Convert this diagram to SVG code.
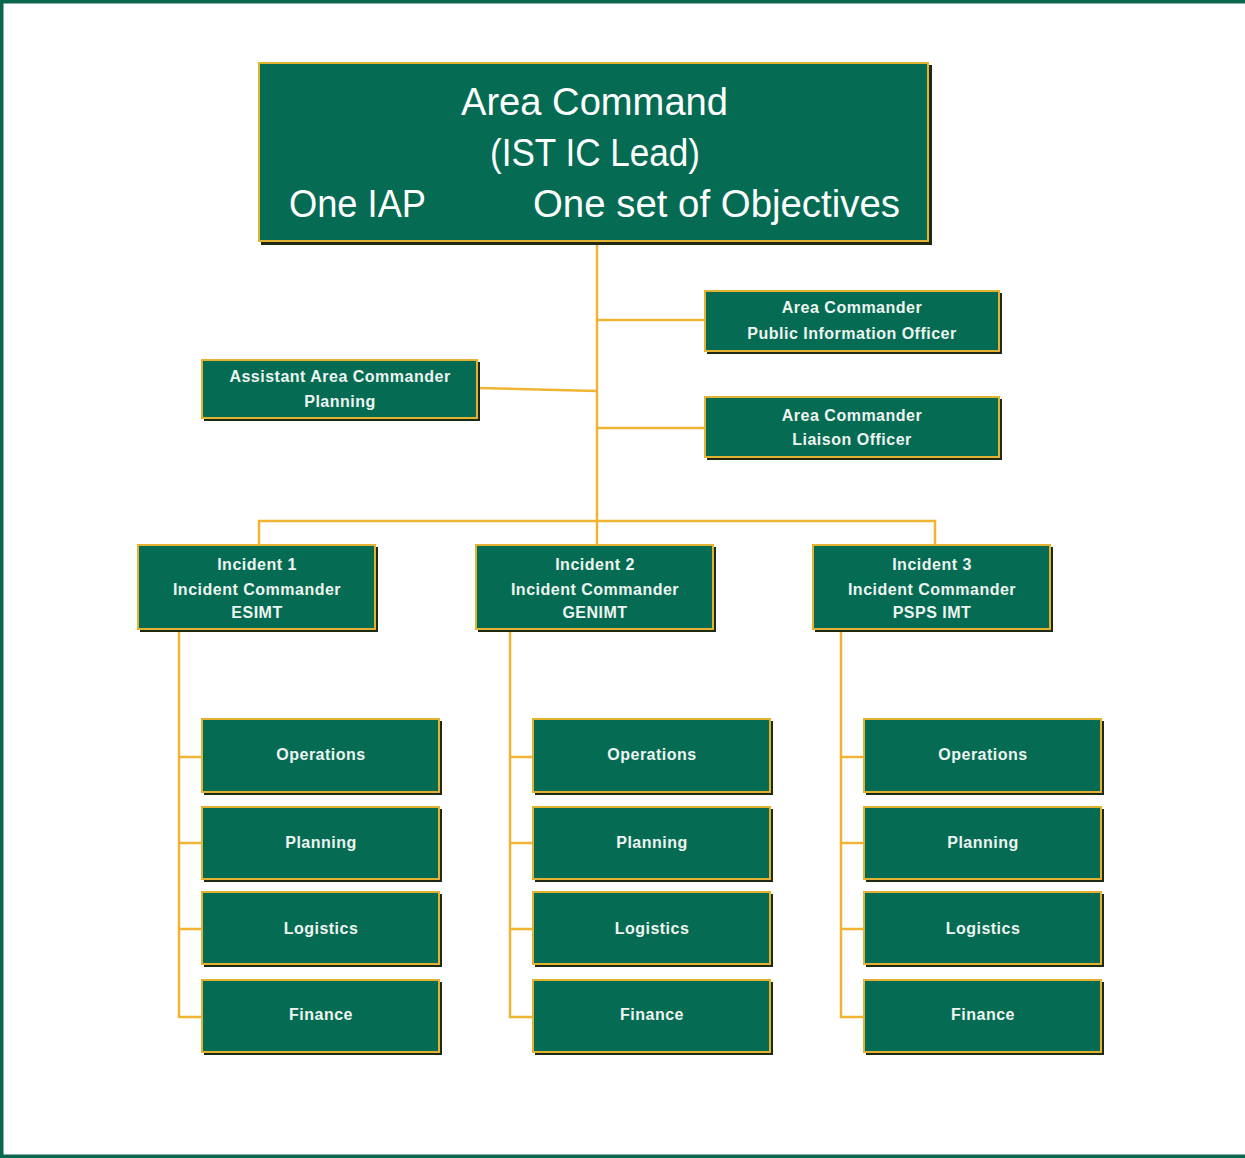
<svg xmlns="http://www.w3.org/2000/svg" width="1245" height="1158" viewBox="0 0 1245 1158">
<style>
.box{fill:#056c53;stroke:#e3b233;stroke-width:2}
.sh{fill:#1f2a12}
.big{font-family:"Liberation Sans",Arial,sans-serif;font-size:38px;fill:#ffffff}
.sm{font-family:"Liberation Sans",Arial,sans-serif;font-size:16px;font-weight:bold;fill:#eef4f0;letter-spacing:0.5px;text-anchor:middle}
.md{font-family:"Liberation Sans",Arial,sans-serif;font-size:16px;font-weight:bold;fill:#eef4f0;letter-spacing:0.5px;text-anchor:middle}
.ln{fill:none;stroke:#f0b432;stroke-width:2.5}
</style>
<rect x="0" y="0" width="1245" height="1158" fill="#ffffff"/>
<path d="M0 0H1245V3.5H3.5V1154.5H1245V1158H0Z" fill="#0b6650"/>
<g id="connectors">
<path class="ln" d="M597 243V521"/>
<path class="ln" d="M597 320H705"/>
<path class="ln" d="M597 428H705"/>
<path class="ln" d="M478 388L597 391"/>
<path class="ln" d="M259 545V521H935V545"/>
<path class="ln" d="M597 521V545"/>
<path class="ln" d="M179 630V1017H202M179 757H202M179 843H202M179 929H202"/>
<path class="ln" d="M510 630V1017H533M510 757H533M510 843H533M510 929H533"/>
<path class="ln" d="M841 630V1017H864M841 757H864M841 843H864M841 929H864"/>
</g>
<g id="area-command">
<rect class="sh" x="261" y="65" width="671" height="180"/>
<rect class="box" x="259" y="63" width="669" height="178"/>
<text class="big" x="461" y="115" textLength="267" lengthAdjust="spacingAndGlyphs">Area Command</text>
<text class="big" x="490" y="166" textLength="210" lengthAdjust="spacingAndGlyphs">(IST IC Lead)</text>
<text class="big" x="289" y="217" textLength="137" lengthAdjust="spacingAndGlyphs">One IAP</text>
<text class="big" x="533" y="217" textLength="367" lengthAdjust="spacingAndGlyphs">One set of Objectives</text>
</g>
<g id="pio">
<rect class="sh" x="707" y="293" width="295" height="61"/>
<rect class="box" x="705" y="291" width="294" height="60"/>
<text class="sm" x="852" y="313">Area Commander</text>
<text class="sm" x="852" y="339">Public Information Officer</text>
</g>
<g id="assistant">
<rect class="sh" x="204" y="362" width="276" height="59"/>
<rect class="box" x="202" y="360" width="275" height="58"/>
<text class="sm" x="340" y="382">Assistant Area Commander</text>
<text class="sm" x="340" y="407">Planning</text>
</g>
<g id="liaison">
<rect class="sh" x="707" y="399" width="295" height="61"/>
<rect class="box" x="705" y="397" width="294" height="60"/>
<text class="sm" x="852" y="421">Area Commander</text>
<text class="sm" x="852" y="445">Liaison Officer</text>
</g>
<g id="incident1">
<rect class="sh" x="140" y="547" width="238" height="85"/>
<rect class="box" x="138" y="545" width="237" height="84"/>
<text class="sm" x="257" y="570">Incident 1</text>
<text class="sm" x="257" y="595">Incident Commander</text>
<text class="sm" x="257" y="618">ESIMT</text>
</g>
<g id="incident2">
<rect class="sh" x="478" y="547" width="238" height="85"/>
<rect class="box" x="476" y="545" width="237" height="84"/>
<text class="sm" x="595" y="570">Incident 2</text>
<text class="sm" x="595" y="595">Incident Commander</text>
<text class="sm" x="595" y="618">GENIMT</text>
</g>
<g id="incident3">
<rect class="sh" x="815" y="547" width="238" height="85"/>
<rect class="box" x="813" y="545" width="237" height="84"/>
<text class="sm" x="932" y="570">Incident 3</text>
<text class="sm" x="932" y="595">Incident Commander</text>
<text class="sm" x="932" y="618">PSPS IMT</text>
</g>
<g id="ops1"><rect class="sh" x="204" y="721" width="238" height="74"/><rect class="box" x="202" y="719" width="237" height="73"/><text class="md" x="321" y="760">Operations</text></g>
<g id="plan1"><rect class="sh" x="204" y="809" width="238" height="73"/><rect class="box" x="202" y="807" width="237" height="72"/><text class="md" x="321" y="848">Planning</text></g>
<g id="log1"><rect class="sh" x="204" y="894" width="238" height="73"/><rect class="box" x="202" y="892" width="237" height="72"/><text class="md" x="321" y="934">Logistics</text></g>
<g id="fin1"><rect class="sh" x="204" y="982" width="238" height="73"/><rect class="box" x="202" y="980" width="237" height="72"/><text class="md" x="321" y="1020">Finance</text></g>
<g id="ops2"><rect class="sh" x="535" y="721" width="238" height="74"/><rect class="box" x="533" y="719" width="237" height="73"/><text class="md" x="652" y="760">Operations</text></g>
<g id="plan2"><rect class="sh" x="535" y="809" width="238" height="73"/><rect class="box" x="533" y="807" width="237" height="72"/><text class="md" x="652" y="848">Planning</text></g>
<g id="log2"><rect class="sh" x="535" y="894" width="238" height="73"/><rect class="box" x="533" y="892" width="237" height="72"/><text class="md" x="652" y="934">Logistics</text></g>
<g id="fin2"><rect class="sh" x="535" y="982" width="238" height="73"/><rect class="box" x="533" y="980" width="237" height="72"/><text class="md" x="652" y="1020">Finance</text></g>
<g id="ops3"><rect class="sh" x="866" y="721" width="238" height="74"/><rect class="box" x="864" y="719" width="237" height="73"/><text class="md" x="983" y="760">Operations</text></g>
<g id="plan3"><rect class="sh" x="866" y="809" width="238" height="73"/><rect class="box" x="864" y="807" width="237" height="72"/><text class="md" x="983" y="848">Planning</text></g>
<g id="log3"><rect class="sh" x="866" y="894" width="238" height="73"/><rect class="box" x="864" y="892" width="237" height="72"/><text class="md" x="983" y="934">Logistics</text></g>
<g id="fin3"><rect class="sh" x="866" y="982" width="238" height="73"/><rect class="box" x="864" y="980" width="237" height="72"/><text class="md" x="983" y="1020">Finance</text></g>
</svg>
